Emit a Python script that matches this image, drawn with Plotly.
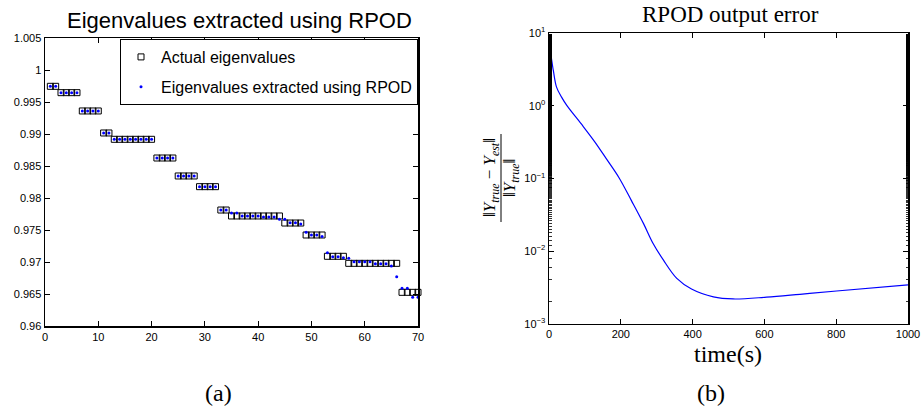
import plotly.graph_objects as go

# ---------------- data ----------------
eig_index = list(range(1, 71))
actual_eigs = [0.99745, 0.99745,
               0.99646, 0.99646, 0.99646, 0.99646,
               0.99360, 0.99360, 0.99360, 0.99360,
               0.99016, 0.99016,
               0.98917, 0.98917, 0.98917, 0.98917, 0.98917, 0.98917, 0.98917, 0.98917,
               0.98625, 0.98625, 0.98625, 0.98625,
               0.98344, 0.98344, 0.98344, 0.98344,
               0.98177, 0.98177, 0.98177, 0.98177,
               0.97812, 0.97812,
               0.97719, 0.97719, 0.97719, 0.97719, 0.97719, 0.97719, 0.97719, 0.97719, 0.97719, 0.97719,
               0.97609, 0.97609, 0.97609, 0.97609,
               0.97422, 0.97422, 0.97422, 0.97422,
               0.97089, 0.97089, 0.97089, 0.97089,
               0.96979, 0.96979, 0.96979, 0.96979, 0.96979, 0.96979, 0.96979, 0.96979, 0.96979, 0.96979,
               0.96526, 0.96526, 0.96526, 0.96526]
rpod_eigs = [0.99745, 0.99745,
             0.99646, 0.99646, 0.99646, 0.99646,
             0.99360, 0.99360, 0.99360, 0.99360,
             0.99016, 0.99016,
             0.98917, 0.98917, 0.98917, 0.98917, 0.98917, 0.98917, 0.98917, 0.98917,
             0.98625, 0.98625, 0.98625, 0.98625,
             0.98344, 0.98344, 0.98344, 0.98344,
             0.98177, 0.98177, 0.98177, 0.98177,
             0.97812, 0.97812,
             0.97766, 0.97766, 0.97719, 0.97719, 0.97719, 0.97719, 0.97703, 0.97703, 0.97703, 0.97667,
             0.97667, 0.97615, 0.97615, 0.97594,
             0.97464, 0.97422, 0.97422, 0.97397,
             0.97145, 0.97081, 0.97081, 0.97065,
             0.97057, 0.97005, 0.97005, 0.97005, 0.97005, 0.96974, 0.96974, 0.96974, 0.96937, 0.96770,
             0.96589, 0.96589, 0.96448, 0.96448]

left_xticks = [0, 10, 20, 30, 40, 50, 60, 70]
left_yticks = [0.96, 0.965, 0.97, 0.975, 0.98, 0.985, 0.99, 0.995, 1.0, 1.005]
left_yticklabels = ["0.96", "0.965", "0.97", "0.975", "0.98", "0.985", "0.99", "0.995", "1", "1.005"]

time_s = [0, 3, 12, 21, 35, 50, 90, 128, 160, 195, 230, 263, 290, 318, 356, 397, 458, 513, 606, 699, 801, 1000]
output_error = [3.98, 5.45, 3.05, 1.8, 1.31, 1.0, 0.56, 0.316, 0.185, 0.102, 0.049, 0.024, 0.0127, 0.0076,
                0.0042, 0.0030, 0.00234, 0.00219, 0.00232, 0.00254, 0.00282, 0.00343]

right_xticks = [0, 200, 400, 600, 800, 1000]
right_yticks = [0.001, 0.01, 0.1, 1, 10]
right_yticklabels = ["10<sup>−3</sup>", "10<sup>−2</sup>", "10<sup>−1</sup>", "10<sup>0</sup>", "10<sup>1</sup>"]

# ---------------- figure ----------------
W, H = 922, 409
SANS = "Liberation Sans, Arial, sans-serif"
SERIF = "Liberation Serif, Times New Roman, serif"

fig = go.Figure()

fig.add_trace(go.Scatter(
    x=eig_index, y=actual_eigs, mode="markers", name="Actual eigenvalues",
    marker=dict(symbol="square-open", size=6, color="black", line=dict(width=1, color="black")),
    xaxis="x", yaxis="y", cliponaxis=False, legendgroup="a"))
fig.add_trace(go.Scatter(
    x=eig_index, y=rpod_eigs, mode="markers", name="Eigenvalues extracted using RPOD",
    marker=dict(symbol="circle", size=3, color="#0000ff"),
    xaxis="x", yaxis="y", cliponaxis=False, legendgroup="b"))
fig.add_trace(go.Scatter(
    x=time_s, y=output_error, mode="lines", showlegend=False,
    line=dict(color="#0000ff", width=1.2, shape="spline", smoothing=1.0),
    xaxis="x2", yaxis="y2"))

axis_common = dict(showline=True, mirror="allticks", linecolor="black", linewidth=1.5,
                   ticks="inside", ticklen=5, tickwidth=1, tickcolor="black", showgrid=False, zeroline=False,
                   automargin=False,
                   tickfont=dict(family=SANS, size=11, color="black"))

fig.update_layout(
    template="none",
    width=W, height=H, margin=dict(l=0, r=0, t=0, b=0, pad=0),
    paper_bgcolor="white", plot_bgcolor="white",
    xaxis=dict(domain=[45 / W, 418 / W], range=[0, 70], tickvals=left_xticks, anchor="y", **axis_common),
    yaxis=dict(domain=[1 - 326 / H, 1 - 38 / H], range=[0.96, 1.005], tickvals=left_yticks,
               ticktext=left_yticklabels, anchor="x", **axis_common),
    xaxis2=dict(domain=[549 / W, 908 / W], range=[0, 1000], tickvals=right_xticks, anchor="y2", **axis_common),
    yaxis2=dict(domain=[1 - 323.7 / H, 1 - 33 / H], type="log", range=[-3, 1], tickvals=right_yticks,
                ticktext=right_yticklabels, anchor="x2",
                minor=dict(ticks="inside", ticklen=2.5, tickwidth=0.8, tickcolor="black", showgrid=False),
                **axis_common),
    legend=dict(x=418 / W, xanchor="right", y=1 - 39 / H, yanchor="top",
                bgcolor="white", bordercolor="black", borderwidth=1,
                font=dict(family=SANS, size=16, color="black"), tracegroupgap=6),
    showlegend=True,
)

annotations = [
    dict(text="Eigenvalues extracted using RPOD", x=239 / W, y=1 - 20 / H, xref="paper", yref="paper",
         showarrow=False, font=dict(family=SANS, size=22, color="black"), xanchor="center", yanchor="middle"),
    dict(text="RPOD output error", x=730 / W, y=1 - 14 / H, xref="paper", yref="paper",
         showarrow=False, font=dict(family=SERIF, size=23, color="black"), xanchor="center", yanchor="middle"),
    dict(text="time(s)", x=728 / W, y=1 - 354 / H, xref="paper", yref="paper",
         showarrow=False, font=dict(family=SERIF, size=24, color="black"), xanchor="center", yanchor="middle"),
    dict(text="(a)", x=218 / W, y=1 - 393 / H, xref="paper", yref="paper",
         showarrow=False, font=dict(family=SERIF, size=24, color="black"), xanchor="center", yanchor="middle"),
    dict(text="(b)", x=711 / W, y=1 - 393 / H, xref="paper", yref="paper",
         showarrow=False, font=dict(family=SERIF, size=24, color="black"), xanchor="center", yanchor="middle"),
    dict(text="‖<i>Y<sub>true</sub></i> − <i>Y<sub>est</sub></i>‖", x=491 / W, y=1 - 178 / H,
         xref="paper", yref="paper", textangle=-90, showarrow=False,
         font=dict(family=SERIF, size=17, color="black"), xanchor="center", yanchor="middle"),
    dict(text="‖<i>Y<sub>true</sub></i>‖", x=511 / W, y=1 - 178 / H,
         xref="paper", yref="paper", textangle=-90, showarrow=False,
         font=dict(family=SERIF, size=17, color="black"), xanchor="center", yanchor="middle"),
]
fig.update_layout(annotations=annotations)
fig.add_shape(type="line", xref="paper", yref="paper", x0=501 / W, x1=501 / W,
              y0=1 - 134 / H, y1=1 - 222 / H, line=dict(color="black", width=1))

fig.write_html("out.html",
               config={"displayModeBar": False, "staticPlot": True},
               post_script="document.body.style.margin='0';document.body.style.padding='0';"
                           "document.body.style.overflow='hidden';")
